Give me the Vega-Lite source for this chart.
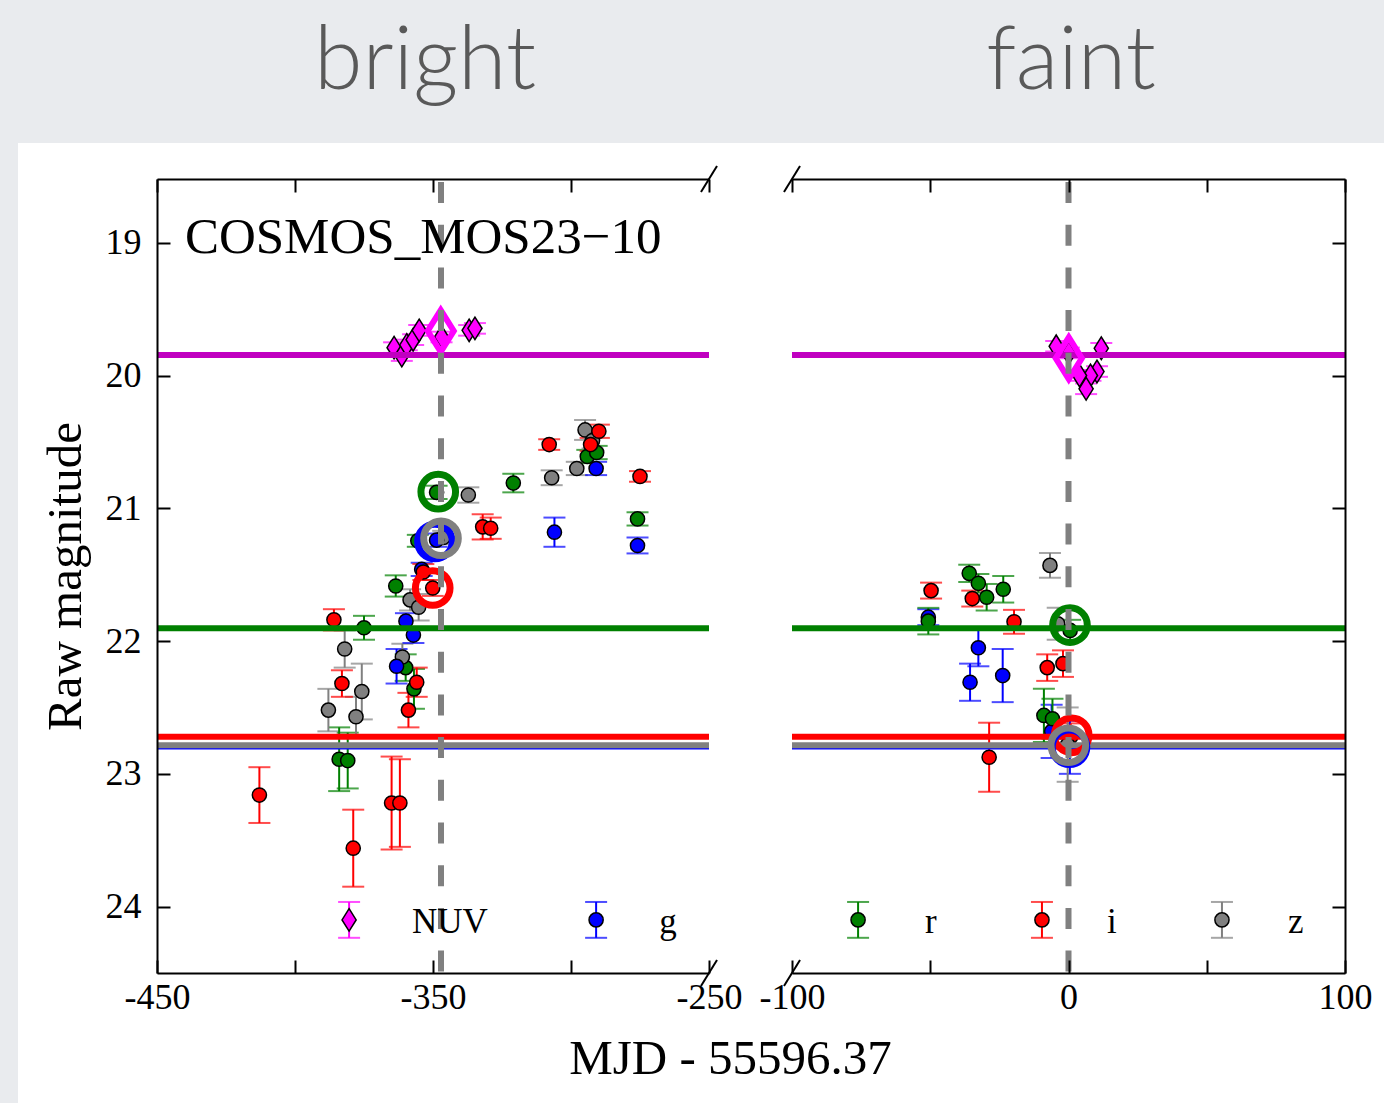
{
  "$schema": "https://vega.github.io/schema/vega-lite/v6.json",
  "background": "#e9ebee",
  "padding": 0,
  "autosize": {"type": "pad"},
  "bounds": "flush",
  "spacing": 83,
  "config": {
    "view": {"stroke": null},
    "axis": {
      "domainColor": "black", "domainWidth": 2, "tickColor": "black", "tickWidth": 2, "tickSize": -13,
      "labelFont": "Liberation Serif", "labelFontSize": 36, "labelColor": "black", "labelPadding": 20, "labelFlush": false,
      "titleFont": "Liberation Serif", "titleFontSize": 49, "titleColor": "black", "titleFontWeight": "normal",
      "grid": false
    }
  },
  "datasets": {
    "one": [{}],
    "b_pts": [
      {"band": "NUV", "t": -364.1, "mag": 19.79, "err": 0.04},
      {"band": "NUV", "t": -361.3, "mag": 19.85, "err": 0.04},
      {"band": "NUV", "t": -359.5, "mag": 19.77, "err": 0.04},
      {"band": "NUV", "t": -357.2, "mag": 19.73, "err": 0.04},
      {"band": "NUV", "t": -355.0, "mag": 19.66, "err": 0.04},
      {"band": "NUV", "t": -346.9, "mag": 19.71, "err": 0.04},
      {"band": "NUV", "t": -336.9, "mag": 19.66, "err": 0.04},
      {"band": "NUV", "t": -334.8, "mag": 19.645, "err": 0.04},
      {"band": "NUV", "t": -380.4, "mag": 24.1, "err": 0.135},
      {"band": "r", "t": -348.7, "mag": 20.88, "err": 0.05},
      {"band": "r", "t": -355.5, "mag": 21.245, "err": 0.045},
      {"band": "r", "t": -363.5, "mag": 21.585, "err": 0.08},
      {"band": "r", "t": -375.0, "mag": 21.9, "err": 0.09},
      {"band": "r", "t": -359.9, "mag": 22.2, "err": 0.1},
      {"band": "r", "t": -356.9, "mag": 22.36, "err": 0.15},
      {"band": "r", "t": -384.0, "mag": 22.89, "err": 0.24},
      {"band": "r", "t": -380.9, "mag": 22.9, "err": 0.21},
      {"band": "r", "t": -320.9, "mag": 20.81, "err": 0.07},
      {"band": "r", "t": -294.1, "mag": 20.61, "err": 0.05},
      {"band": "r", "t": -290.7, "mag": 20.58, "err": 0.05},
      {"band": "r", "t": -275.9, "mag": 21.08, "err": 0.05},
      {"band": "z", "t": -337.2, "mag": 20.9, "err": 0.058},
      {"band": "z", "t": -346.3, "mag": 21.22, "err": 0.05},
      {"band": "z", "t": -358.3, "mag": 21.69, "err": 0.08},
      {"band": "z", "t": -355.2, "mag": 21.745, "err": 0.1},
      {"band": "z", "t": -382.0, "mag": 22.06, "err": 0.14},
      {"band": "z", "t": -361.1, "mag": 22.12, "err": 0.1},
      {"band": "z", "t": -387.9, "mag": 22.52, "err": 0.16},
      {"band": "z", "t": -375.8, "mag": 22.38, "err": 0.21},
      {"band": "z", "t": -377.9, "mag": 22.57, "err": 0.15},
      {"band": "z", "t": -307.0, "mag": 20.77, "err": 0.056},
      {"band": "z", "t": -294.9, "mag": 20.41, "err": 0.075},
      {"band": "z", "t": -292.2, "mag": 20.49, "err": 0.06},
      {"band": "z", "t": -297.9, "mag": 20.7, "err": 0.05},
      {"band": "g", "t": -354.1, "mag": 21.46, "err": 0.05},
      {"band": "g", "t": -348.7, "mag": 21.24, "err": 0.05},
      {"band": "g", "t": -359.8, "mag": 21.85, "err": 0.06},
      {"band": "g", "t": -357.1, "mag": 21.955, "err": 0.06},
      {"band": "g", "t": -363.2, "mag": 22.19, "err": 0.13},
      {"band": "g", "t": -306.0, "mag": 21.18, "err": 0.11},
      {"band": "g", "t": -290.9, "mag": 20.7, "err": 0.05},
      {"band": "g", "t": -275.9, "mag": 21.28, "err": 0.06},
      {"band": "g", "t": -290.9, "mag": 24.1, "err": 0.135},
      {"band": "i", "t": -350.1, "mag": 21.6, "err": 0.06},
      {"band": "i", "t": -353.5, "mag": 21.48, "err": 0.06},
      {"band": "i", "t": -385.9, "mag": 21.84, "err": 0.08},
      {"band": "i", "t": -383.0, "mag": 22.32, "err": 0.1},
      {"band": "i", "t": -355.9, "mag": 22.31, "err": 0.11},
      {"band": "i", "t": -358.9, "mag": 22.52, "err": 0.13},
      {"band": "i", "t": -412.9, "mag": 23.16, "err": 0.21},
      {"band": "i", "t": -378.9, "mag": 23.56, "err": 0.29},
      {"band": "i", "t": -365.0, "mag": 23.22, "err": 0.35},
      {"band": "i", "t": -362.0, "mag": 23.22, "err": 0.33},
      {"band": "i", "t": -307.9, "mag": 20.52, "err": 0.04},
      {"band": "i", "t": -332.0, "mag": 21.14, "err": 0.095},
      {"band": "i", "t": -329.1, "mag": 21.15, "err": 0.08},
      {"band": "i", "t": -289.9, "mag": 20.42, "err": 0.05},
      {"band": "i", "t": -292.9, "mag": 20.52, "err": 0.05},
      {"band": "i", "t": -275.0, "mag": 20.76, "err": 0.04}
    ],
    "f_pts": [
      {"band": "NUV", "t": -4.45, "mag": 19.78, "err": 0.04},
      {"band": "NUV", "t": 0.1, "mag": 19.83, "err": 0.04},
      {"band": "NUV", "t": 11.86, "mag": 19.795, "err": 0.04},
      {"band": "NUV", "t": 10.3, "mag": 19.97, "err": 0.04},
      {"band": "NUV", "t": 7.95, "mag": 20.0, "err": 0.04},
      {"band": "NUV", "t": 6.37, "mag": 20.1, "err": 0.04},
      {"band": "NUV", "t": 4.0, "mag": 20.0, "err": 0.04},
      {"band": "g", "t": -50.7, "mag": 21.82, "err": 0.06},
      {"band": "g", "t": -32.6, "mag": 22.05, "err": 0.14},
      {"band": "g", "t": -35.6, "mag": 22.31, "err": 0.14},
      {"band": "g", "t": -23.8, "mag": 22.26, "err": 0.2},
      {"band": "g", "t": -6.1, "mag": 22.68, "err": 0.2},
      {"band": "g", "t": 0.5, "mag": 22.8, "err": 0.2},
      {"band": "r", "t": -50.7, "mag": 21.85, "err": 0.1},
      {"band": "r", "t": -35.9, "mag": 21.49, "err": 0.065},
      {"band": "r", "t": -32.6, "mag": 21.565, "err": 0.07},
      {"band": "r", "t": -29.6, "mag": 21.67, "err": 0.1},
      {"band": "r", "t": -23.6, "mag": 21.61, "err": 0.1},
      {"band": "r", "t": 0.6, "mag": 21.92, "err": 0.08},
      {"band": "r", "t": -8.9, "mag": 22.56, "err": 0.2},
      {"band": "r", "t": -5.8, "mag": 22.585, "err": 0.15},
      {"band": "r", "t": -76.1, "mag": 24.1, "err": 0.135},
      {"band": "i", "t": -49.7, "mag": 21.62, "err": 0.06},
      {"band": "i", "t": -34.8, "mag": 21.68, "err": 0.06},
      {"band": "i", "t": -19.7, "mag": 21.855, "err": 0.09},
      {"band": "i", "t": -28.7, "mag": 22.875, "err": 0.26},
      {"band": "i", "t": -7.7, "mag": 22.2, "err": 0.1},
      {"band": "i", "t": -2.0, "mag": 22.17, "err": 0.1},
      {"band": "i", "t": 0.8, "mag": 22.72, "err": 0.1},
      {"band": "i", "t": -9.6, "mag": 24.1, "err": 0.135},
      {"band": "z", "t": -6.7, "mag": 21.43, "err": 0.094},
      {"band": "z", "t": -3.9, "mag": 21.87, "err": 0.12},
      {"band": "z", "t": -0.3, "mag": 22.78, "err": 0.28},
      {"band": "z", "t": 55.5, "mag": 24.1, "err": 0.135}
    ],
    "b_peak": [
      {"band": "g", "t": -349.3, "mag": 21.25},
      {"band": "z", "t": -347.1, "mag": 21.226},
      {"band": "i", "t": -350.1, "mag": 21.6},
      {"band": "r", "t": -348.1, "mag": 20.875},
      {"band": "NUV", "t": -347.2, "mag": 19.665}
    ],
    "f_peak": [
      {"band": "r", "t": 0.54, "mag": 21.88},
      {"band": "i", "t": 1.16, "mag": 22.71},
      {"band": "g", "t": 0.36, "mag": 22.8},
      {"band": "z", "t": -0.07, "mag": 22.785},
      {"band": "NUV", "t": 0.1, "mag": 19.87}
    ],
    "refs": [
      {"band": "NUV", "mag": 19.846},
      {"band": "r", "mag": 21.904},
      {"band": "i", "mag": 22.72},
      {"band": "z", "mag": 22.785}
    ],
    "b_leg": [
      {"label": "NUV", "t": -357.6},
      {"label": "g", "t": -268.0}
    ],
    "f_leg": [
      {"label": "r", "t": -51.9},
      {"label": "i", "t": 13.9},
      {"label": "z", "t": 79.4}
    ]
  },
  "hconcat": [
    {
      "width": 552,
      "height": 794,
      "resolve": {"axis": {"x": "independent", "y": "independent"}},
      "layer": [
        {
          "data": {"name": "one"},
          "mark": {"type": "rect", "fill": "#e9ebee", "clip": false},
          "encoding": {
            "x": {"datum": -506.88, "type": "quantitative", "scale": {"domain": [-450, -250], "nice": false, "zero": false}, "axis": null},
            "x2": {"datum": -5.43},
            "y": {"datum": 17.172, "type": "quantitative", "scale": {"domain": [18.52, 24.5], "reverse": true, "nice": false, "zero": false}, "axis": null},
            "y2": {"datum": 25.479}
          }
        },
        {
          "data": {"name": "one"},
          "mark": {"type": "rect", "fill": "#ffffff", "clip": false},
          "encoding": {
            "x": {"datum": -500.36, "type": "quantitative", "axis": null},
            "x2": {"datum": -5.43},
            "y": {"datum": 18.249, "type": "quantitative", "axis": null},
            "y2": {"datum": 25.479}
          }
        },
        {
          "data": {"name": "b_pts"},
          "mark": {"type": "errorbar", "ticks": {"size": 22, "thickness": 2}, "thickness": 2},
          "encoding": {
            "x": {"field": "t", "type": "quantitative", "axis": null},
            "y": {"field": "mag", "type": "quantitative", "axis": null},
            "yError": {"field": "err"},
            "color": {"field": "band", "type": "nominal", "legend": null,
              "scale": {"domain": ["NUV", "g", "r", "i", "z"], "range": ["#ff00ff", "#0000ff", "#008000", "#ff0000", "#808080"]}}
          }
        },
        {
          "data": {"name": "b_pts"},
          "mark": {"type": "point", "filled": true, "stroke": "black", "strokeWidth": 1.5, "opacity": 1, "size": 200},
          "encoding": {
            "x": {"field": "t", "type": "quantitative",
              "axis": {"orient": "bottom", "zindex": 1, "values": [-450, -400, -350, -300, -250],
                "labelExpr": "datum.value == -400 || datum.value == -300 ? '' : '' + datum.value",
                "title": "MJD - 55596.37", "titleX": 573, "titleY": 100, "titleAlign": "center", "titleBaseline": "alphabetic"}},
            "y": {"field": "mag", "type": "quantitative",
              "axis": {"orient": "left", "zindex": 1, "values": [19, 20, 21, 22, 23, 24], "labelPadding": 29,
                "title": "Raw magnitude", "titleX": -77, "titleY": 397, "titleAngle": -90, "titleAlign": "center", "titleBaseline": "alphabetic"}},
            "fill": {"field": "band", "type": "nominal", "legend": null,
              "scale": {"domain": ["NUV", "g", "r", "i", "z"], "range": ["#ff00ff", "#0000ff", "#008000", "#ff0000", "#808080"]}},
            "shape": {"field": "band", "type": "nominal", "legend": null,
              "scale": {"domain": ["NUV", "g", "r", "i", "z"], "range": ["M0,-1.6L1,0L0,1.6L-1,0Z", "circle", "circle", "circle", "circle"]}}
          }
        },
        {
          "data": {"name": "one"},
          "mark": {"type": "rule", "color": "#0000ff", "strokeWidth": 2},
          "encoding": {"y": {"datum": 22.81, "type": "quantitative", "axis": null}}
        },
        {
          "data": {"name": "refs"},
          "mark": {"type": "rule", "strokeWidth": 6},
          "encoding": {
            "y": {"field": "mag", "type": "quantitative", "axis": null},
            "stroke": {"field": "band", "type": "nominal", "legend": null,
              "scale": {"domain": ["NUV", "g", "r", "i", "z"], "range": ["#c000c0", "#0000ff", "#008000", "#ff0000", "#808080"]}}
          }
        },
        {
          "data": {"name": "b_peak"},
          "transform": [{"filter": "datum.band != 'NUV'"}],
          "mark": {"type": "point", "shape": "circle", "filled": false, "strokeWidth": 7, "size": 1200, "opacity": 1},
          "encoding": {
            "x": {"field": "t", "type": "quantitative", "axis": null},
            "y": {"field": "mag", "type": "quantitative", "axis": null},
            "stroke": {"field": "band", "type": "nominal", "legend": null}
          }
        },
        {
          "data": {"name": "b_peak"},
          "transform": [{"filter": "datum.band == 'NUV'"}],
          "mark": {"type": "point", "shape": "M0,-1.6L1,0L0,1.6L-1,0Z", "filled": false, "stroke": "#ff00ff", "strokeWidth": 6, "size": 680, "opacity": 1},
          "encoding": {
            "x": {"field": "t", "type": "quantitative", "axis": null},
            "y": {"field": "mag", "type": "quantitative", "axis": null}
          }
        },
        {
          "data": {"name": "one"},
          "mark": {"type": "rule", "color": "#808080", "strokeWidth": 6, "strokeDash": [21, 21.7], "strokeDashOffset": 39.7},
          "encoding": {
            "x": {"datum": -347.1, "type": "quantitative",
              "axis": {"orient": "top", "zindex": 1, "values": [-450, -400, -350, -300, -250], "labels": false, "title": null}}
          }
        },
        {
          "data": {"name": "b_leg"},
          "mark": {"type": "text", "font": "Liberation Serif", "fontSize": 35, "align": "left", "baseline": "alphabetic", "color": "black"},
          "encoding": {
            "x": {"field": "t", "type": "quantitative", "axis": null},
            "y": {"datum": 24.196, "type": "quantitative", "axis": null},
            "text": {"field": "label"}
          }
        },
        {
          "data": {"name": "one"},
          "mark": {"type": "text", "text": "COSMOS_MOS23\u221210", "font": "Liberation Serif", "fontSize": 51, "align": "left", "baseline": "alphabetic", "color": "black"},
          "encoding": {
            "x": {"datum": -439.9, "type": "quantitative", "axis": null},
            "y": {"datum": 19.078, "type": "quantitative", "axis": null}
          }
        },
        {
          "data": {"name": "one"},
          "mark": {"type": "text", "text": "bright", "font": "Lato", "fontWeight": 300, "fontSize": 88, "align": "center", "baseline": "alphabetic", "color": "#595959", "clip": false},
          "encoding": {
            "x": {"datum": -352.9, "type": "quantitative", "axis": null},
            "y": {"datum": 17.842, "type": "quantitative", "axis": null}
          }
        },
        {
          "data": {"name": "one"},
          "mark": {"type": "rule", "color": "black", "strokeWidth": 2, "clip": false},
          "encoding": {
            "x": {"datum": -252.9, "type": "quantitative", "axis": null},
            "x2": {"datum": -247.1},
            "y": {"datum": 18.618, "type": "quantitative", "axis": null},
            "y2": {"datum": 18.422}
          }
        },
        {
          "data": {"name": "one"},
          "mark": {"type": "rule", "color": "black", "strokeWidth": 2, "clip": false},
          "encoding": {
            "x": {"datum": -252.9, "type": "quantitative", "axis": null},
            "x2": {"datum": -247.1},
            "y": {"datum": 24.598, "type": "quantitative", "axis": null},
            "y2": {"datum": 24.402}
          }
        }
      ]
    },
    {
      "width": 553,
      "height": 794,
      "resolve": {"axis": {"x": "independent", "y": "independent"}},
      "layer": [
        {
          "data": {"name": "f_pts"},
          "mark": {"type": "errorbar", "ticks": {"size": 22, "thickness": 2}, "thickness": 2},
          "encoding": {
            "x": {"field": "t", "type": "quantitative", "axis": null, "scale": {"domain": [-100, 100], "nice": false, "zero": false}},
            "y": {"field": "mag", "type": "quantitative", "axis": null, "scale": {"domain": [18.52, 24.5], "reverse": true, "nice": false, "zero": false}},
            "yError": {"field": "err"},
            "color": {"field": "band", "type": "nominal", "legend": null,
              "scale": {"domain": ["NUV", "g", "r", "i", "z"], "range": ["#ff00ff", "#0000ff", "#008000", "#ff0000", "#808080"]}}
          }
        },
        {
          "data": {"name": "f_pts"},
          "mark": {"type": "point", "filled": true, "stroke": "black", "strokeWidth": 1.5, "opacity": 1, "size": 200},
          "encoding": {
            "x": {"field": "t", "type": "quantitative",
              "axis": {"orient": "bottom", "zindex": 1, "values": [-100, -50, 0, 50, 100],
                "labelExpr": "datum.value == -50 || datum.value == 50 ? '' : '' + datum.value", "title": null}},
            "y": {"field": "mag", "type": "quantitative",
              "axis": {"orient": "right", "zindex": 1, "values": [19, 20, 21, 22, 23, 24], "labels": false, "title": null}},
            "fill": {"field": "band", "type": "nominal", "legend": null,
              "scale": {"domain": ["NUV", "g", "r", "i", "z"], "range": ["#ff00ff", "#0000ff", "#008000", "#ff0000", "#808080"]}},
            "shape": {"field": "band", "type": "nominal", "legend": null,
              "scale": {"domain": ["NUV", "g", "r", "i", "z"], "range": ["M0,-1.6L1,0L0,1.6L-1,0Z", "circle", "circle", "circle", "circle"]}}
          }
        },
        {
          "data": {"name": "one"},
          "mark": {"type": "rule", "color": "#0000ff", "strokeWidth": 2},
          "encoding": {"y": {"datum": 22.81, "type": "quantitative", "axis": null}}
        },
        {
          "data": {"name": "refs"},
          "mark": {"type": "rule", "strokeWidth": 6},
          "encoding": {
            "y": {"field": "mag", "type": "quantitative", "axis": null},
            "stroke": {"field": "band", "type": "nominal", "legend": null,
              "scale": {"domain": ["NUV", "g", "r", "i", "z"], "range": ["#c000c0", "#0000ff", "#008000", "#ff0000", "#808080"]}}
          }
        },
        {
          "data": {"name": "f_peak"},
          "transform": [{"filter": "datum.band != 'NUV'"}],
          "mark": {"type": "point", "shape": "circle", "filled": false, "strokeWidth": 7, "size": 1200, "opacity": 1},
          "encoding": {
            "x": {"field": "t", "type": "quantitative", "axis": null},
            "y": {"field": "mag", "type": "quantitative", "axis": null},
            "stroke": {"field": "band", "type": "nominal", "legend": null}
          }
        },
        {
          "data": {"name": "f_peak"},
          "transform": [{"filter": "datum.band == 'NUV'"}],
          "mark": {"type": "point", "shape": "M0,-1.6L1,0L0,1.6L-1,0Z", "filled": false, "stroke": "#ff00ff", "strokeWidth": 6, "size": 680, "opacity": 1},
          "encoding": {
            "x": {"field": "t", "type": "quantitative", "axis": null},
            "y": {"field": "mag", "type": "quantitative", "axis": null}
          }
        },
        {
          "data": {"name": "one"},
          "mark": {"type": "rule", "color": "#808080", "strokeWidth": 6, "strokeDash": [21, 21.7], "strokeDashOffset": 39.7},
          "encoding": {
            "x": {"datum": 0, "type": "quantitative",
              "axis": {"orient": "top", "zindex": 1, "values": [-100, -50, 0, 50, 100], "labels": false, "title": null}}
          }
        },
        {
          "data": {"name": "f_leg"},
          "mark": {"type": "text", "font": "Liberation Serif", "fontSize": 35, "align": "left", "baseline": "alphabetic", "color": "black"},
          "encoding": {
            "x": {"field": "t", "type": "quantitative", "axis": null},
            "y": {"datum": 24.196, "type": "quantitative", "axis": null},
            "text": {"field": "label"}
          }
        },
        {
          "data": {"name": "one"},
          "mark": {"type": "text", "text": "faint", "font": "Lato", "fontWeight": 300, "fontSize": 88, "align": "center", "baseline": "alphabetic", "color": "#595959", "clip": false},
          "encoding": {
            "x": {"datum": 0.9, "type": "quantitative", "axis": null},
            "y": {"datum": 17.842, "type": "quantitative", "axis": null}
          }
        },
        {
          "data": {"name": "one"},
          "mark": {"type": "rule", "color": "black", "strokeWidth": 2, "clip": false},
          "encoding": {
            "x": {"datum": -102.9, "type": "quantitative", "axis": null},
            "x2": {"datum": -97.1},
            "y": {"datum": 18.618, "type": "quantitative", "axis": null},
            "y2": {"datum": 18.422}
          }
        },
        {
          "data": {"name": "one"},
          "mark": {"type": "rule", "color": "black", "strokeWidth": 2, "clip": false},
          "encoding": {
            "x": {"datum": -102.9, "type": "quantitative", "axis": null},
            "x2": {"datum": -97.1},
            "y": {"datum": 24.598, "type": "quantitative", "axis": null},
            "y2": {"datum": 24.402}
          }
        }
      ]
    }
  ]
}
